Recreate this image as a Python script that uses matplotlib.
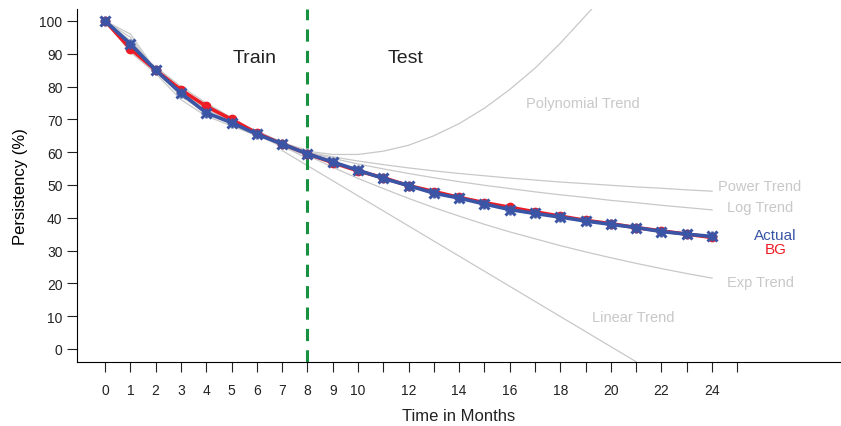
import matplotlib
matplotlib.use("Agg")
import matplotlib.pyplot as plt

plt.rcParams["font.family"] = ["Liberation Sans", "DejaVu Sans"]

# =========================
# DADOS
# =========================

meses = list(range(25))

actual = [100, 93, 85, 78, 72, 69, 65.5, 62.5, 59.5, 57, 54.5, 52, 49.8, 47.5, 46,
          44.2, 42.5, 41.3, 40.2, 39, 38, 37, 35.8, 35, 34.3]
bg = [100, 91.5, 85, 79, 74, 70, 65.8, 62.5, 59.5, 56.8, 54.3, 52.2, 49.8, 48, 46.2,
      44.6, 43.2, 41.8, 40.5, 39.2, 38.2, 37, 36, 35, 34]

# curvas cinzas do treino
meses_treino = list(range(9))
treino_cinza = [
    [100, 96, 85, 77, 72, 68.5, 65, 62.5, 60],
    [100, 92, 86, 79, 74.5, 70, 66, 62, 59],
    [100, 90.5, 84, 76, 71, 68, 65, 62, 58],
    [100, 94, 85.5, 78.5, 73, 69.5, 66.5, 63, 60.5],
    [100, 91, 86, 80, 75, 70.5, 66, 62.5, 59.5],
    [100, 95, 84.5, 77.5, 73.5, 69, 65.5, 61.5, 59],
]

# tendencias
meses_tend = list(range(7, 25))
tend_poly = [62.1, 60.3, 59.3, 59.3, 60.3, 62.1, 65, 68.7, 73.4, 79.1, 85.6, 93.2,
             101.6, 110, 119, 129, 140, 151]
tend_power = [61.7, 60, 58.6, 57.3, 56.2, 55.2, 54.3, 53.5, 52.8, 52.1, 51.5, 50.9,
              50.4, 49.9, 49.4, 49.0, 48.5, 48.1]
tend_log = [62.1, 60, 58.1, 56.4, 54.9, 53.5, 52.2, 51.0, 49.9, 48.9, 47.9, 47.0,
            46.2, 45.3, 44.6, 43.8, 43.1, 42.4]
tend_exp = [62.8, 59, 55.4, 52.0, 48.9, 45.9, 43.1, 40.5, 38.0, 35.7, 33.6, 31.5,
            29.6, 27.8, 26.1, 24.5, 23.0, 21.6]
meses_lin = list(range(7, 22))
tend_lin = [60.5, 55.9, 51.3, 46.7, 42.1, 37.5, 32.9, 28.3, 23.7, 19.1, 14.5, 9.9,
            5.3, 0.7, -3.9]

rotulos_x = [str(m) if (m <= 10 or m % 2 == 0) and m <= 24 else "" for m in range(26)]

AZUL = "#3A55A5"
VERMELHO = "#EE1C25"
CINZA = "#C8C8C8"
VERDE = "#15913F"

# =========================
# GRAFICO
# =========================

fig = plt.figure(figsize=(8.41, 4.27), dpi=100)
ax = fig.add_axes([0.0916, 0.150, 0.9084, 0.827])

for serie in treino_cinza:
    ax.plot(meses_treino, serie, color=CINZA, lw=0.9, zorder=1)

ax.plot(meses_tend, tend_poly, color=CINZA, lw=0.9, zorder=1)
ax.plot(meses_tend, tend_power, color=CINZA, lw=0.9, zorder=1)
ax.plot(meses_tend, tend_log, color=CINZA, lw=0.9, zorder=1)
ax.plot(meses_tend, tend_exp, color=CINZA, lw=0.9, zorder=1)
ax.plot(meses_lin, tend_lin, color=CINZA, lw=0.9, zorder=1)

ax.axvline(8, color=VERDE, lw=2.2, ls=(0, (4, 3)), zorder=2)

ax.plot(meses, bg, color=VERMELHO, lw=2.6, marker="o", ms=6, zorder=3)
ax.plot(meses, actual, color=AZUL, lw=2.6, marker="x", ms=7, mew=2.2, zorder=4)
ax.plot(meses, actual, color=AZUL, lw=0, marker="+", ms=7, mew=1.8, zorder=4)

ax.text(5.9, 89, "Train", fontsize=14, color="#222222", ha="center", va="center")
ax.text(11.9, 89, "Test", fontsize=14, color="#222222", ha="center", va="center")

ax.text(18.9, 75, "Polynomial Trend", fontsize=10.5, color=CINZA, ha="center", va="center")
ax.text(25.9, 49.7, "Power Trend", fontsize=10.5, color=CINZA, ha="center", va="center")
ax.text(25.9, 43.3, "Log Trend", fontsize=10.5, color=CINZA, ha="center", va="center")
ax.text(25.9, 20.3, "Exp Trend", fontsize=10.5, color=CINZA, ha="center", va="center")
ax.text(20.9, 9.8, "Linear Trend", fontsize=10.5, color=CINZA, ha="center", va="center")
ax.text(26.5, 34.7, "Actual", fontsize=11, color=AZUL, ha="center", va="center")
ax.text(26.5, 30.6, "BG", fontsize=11, color=VERMELHO, ha="center", va="center")

ax.set_xlim(-1.11, 29.1)
ax.set_ylim(-3.96, 103.7)
ax.set_xticks(range(26))
ax.set_xticklabels(rotulos_x)
ax.set_yticks(range(0, 101, 10))

ax.spines["top"].set_visible(False)
ax.spines["right"].set_visible(False)
ax.tick_params(axis="both", length=7, width=0.8, labelsize=10, colors="#222222")
ax.tick_params(axis="x", pad=8)

fig.text(0.545, 0.008, "Time in Months", fontsize=12, color="#222222", ha="center", va="bottom")
ax.set_ylabel("Persistency (%)", fontsize=12, labelpad=8)

plt.savefig("out.png", dpi=100)
plt.close()
